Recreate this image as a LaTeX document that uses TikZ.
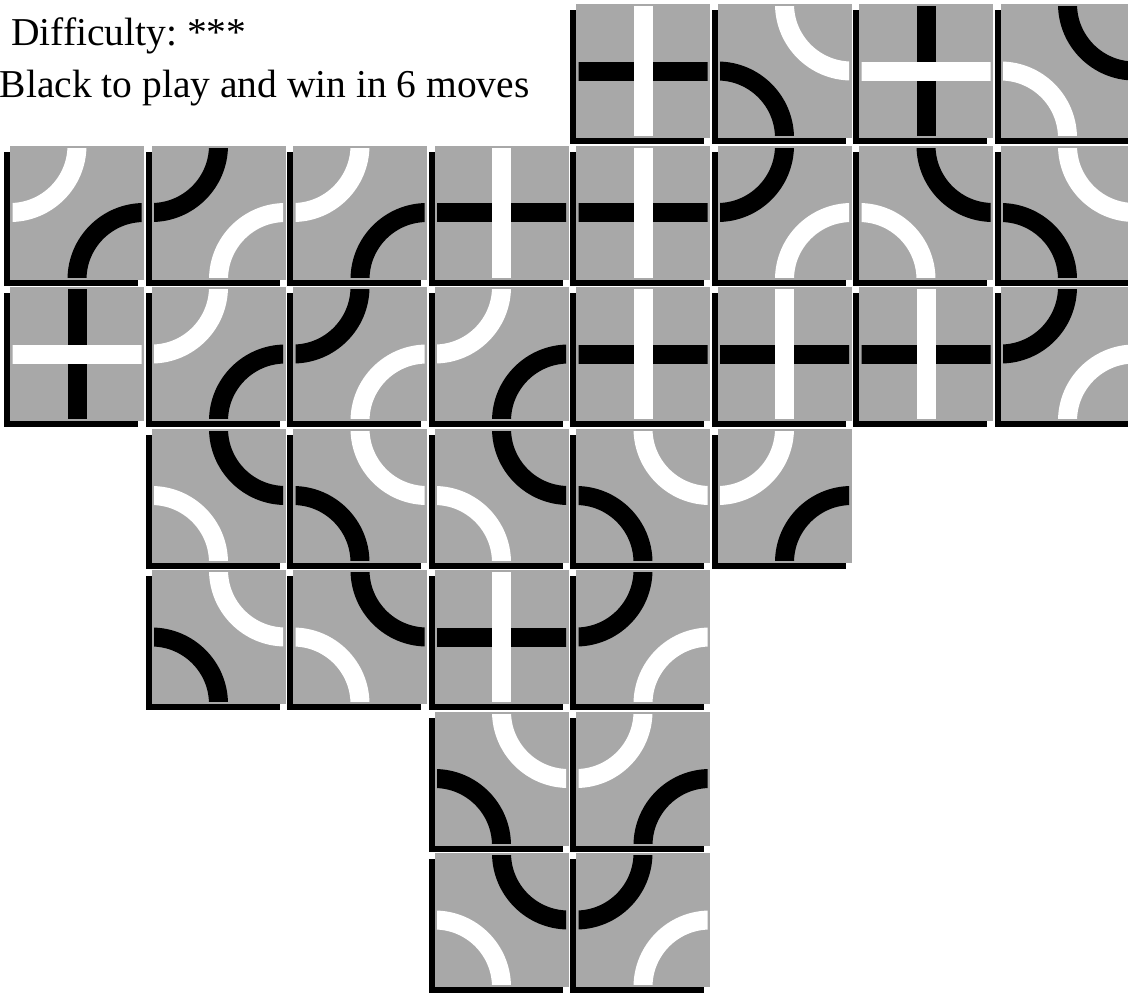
\documentclass[tikz,border=0pt]{standalone}
\usepackage{fontspec}
\setmainfont{Liberation Serif}
\frenchspacing
\definecolor{tilegray}{RGB}{168,168,168}
\tikzset{
  shadowfill/.style={fill=black},
  tilefill/.style={fill=tilegray},
  trackblack/.style={draw=black,line width=19pt,line cap=butt},
  trackwhite/.style={draw=white,line width=19pt,line cap=butt},
  caption/.style={anchor=base west,inner sep=0pt,font=\fontsize{39.5}{47}\selectfont}
}
% track pieces in tile-local coordinates (y downwards, tile is 134 x 134)
\newcommand\trkH[1]{\draw[#1] (0,67) -- (134,67);}
\newcommand\trkV[1]{\draw[#1] (67,0) -- (67,134);}
\newcommand\trkTL[1]{\draw[#1] (67,0) .. controls (67,37) and (37,67) .. (0,67);}
\newcommand\trkBR[1]{\draw[#1] (67,134) .. controls (67,97) and (97,67) .. (134,67);}
\newcommand\trkTR[1]{\draw[#1] (67,0) .. controls (67,37) and (97,67) .. (134,67);}
\newcommand\trkBL[1]{\draw[#1] (0,67) .. controls (37,67) and (67,97) .. (67,134);}
% tile types
\newcommand\typeHB{\trkH{trackblack}\trkV{trackwhite}}
\newcommand\typeVB{\trkV{trackblack}\trkH{trackwhite}}
\newcommand\typeNWB{\trkTL{trackblack}\trkBR{trackwhite}}
\newcommand\typeNWW{\trkTL{trackwhite}\trkBR{trackblack}}
\newcommand\typeNEB{\trkTR{trackblack}\trkBL{trackwhite}}
\newcommand\typeNEW{\trkTR{trackwhite}\trkBL{trackblack}}
\newcommand\traxtile[3]{%
  \begin{scope}[shift={(10+141.5*#1,4+141.5*#2)}]
    \fill[shadowfill] (-6,6) rectangle (128,140);
    \fill[tilefill] (0,0) rectangle (134,134);
    \begin{scope}
      \clip (2.5,2.5) rectangle (131.5,131.5);
      \csname type#3\endcsname
    \end{scope}
  \end{scope}}
\begin{document}
\begin{tikzpicture}[x=1pt,y=-1pt]
  \useasboundingbox (0,0) rectangle (1128,994);
  \node[caption] (title) at (11,45) {Difficulty: ***};
  \node[caption] (task) at (-0.5,97) {Black to play and win in 6 moves};
  \foreach \c/\r/\t in {
    4/0/HB, 5/0/NEW, 6/0/VB, 7/0/NEB,
    0/1/NWW, 1/1/NWB, 2/1/NWW, 3/1/HB, 4/1/HB, 5/1/NWB, 6/1/NEB, 7/1/NEW,
    0/2/VB, 1/2/NWW, 2/2/NWB, 3/2/NWW, 4/2/HB, 5/2/HB, 6/2/HB, 7/2/NWB,
    1/3/NEB, 2/3/NEW, 3/3/NEB, 4/3/NEW, 5/3/NWW,
    1/4/NEW, 2/4/NEB, 3/4/HB, 4/4/NWB,
    3/5/NEW, 4/5/NWW,
    3/6/NEB, 4/6/NWB}
  { \traxtile{\c}{\r}{\t} }
\end{tikzpicture}
\end{document}
